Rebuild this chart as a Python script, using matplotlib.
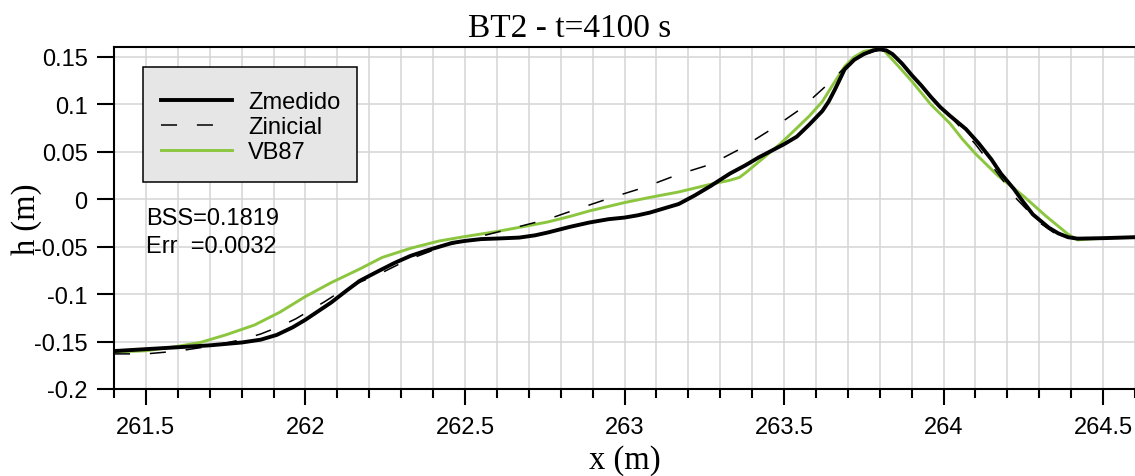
import matplotlib
matplotlib.use("Agg")
import matplotlib.pyplot as plt
from matplotlib.patches import Rectangle
from matplotlib.ticker import FixedLocator, MultipleLocator

# Measured profile (Zmedido)
x_med = [261.40, 261.50, 261.60, 261.70, 261.80, 261.86, 261.91, 261.96, 262.00, 262.04,
         262.08, 262.13, 262.17, 262.23, 262.28, 262.33, 262.38, 262.42, 262.46, 262.50,
         262.55, 262.60, 262.67, 262.72, 262.76, 262.83, 262.89, 262.95, 263.00, 263.04,
         263.08, 263.12, 263.17, 263.22, 263.27, 263.33, 263.38, 263.42, 263.46, 263.50,
         263.54, 263.58, 263.62, 263.64, 263.66, 263.69, 263.72, 263.75, 263.78, 263.80,
         263.82, 263.84, 263.87, 263.90, 263.93, 263.96, 263.99, 264.02, 264.07, 264.11,
         264.15, 264.18, 264.22, 264.25, 264.28, 264.33, 264.36, 264.39, 264.42, 264.50,
         264.60]
z_med = [-0.160, -0.158, -0.156, -0.154, -0.151, -0.148, -0.143, -0.135, -0.127, -0.118,
         -0.109, -0.096, -0.086, -0.0755, -0.067, -0.0596, -0.054, -0.050, -0.046, -0.0439,
         -0.042, -0.0414, -0.0404, -0.038, -0.035, -0.029, -0.0245, -0.021, -0.0193, -0.017,
         -0.014, -0.010, -0.005, 0.004, 0.014, 0.027, 0.036, 0.044, 0.051, 0.058,
         0.066, 0.079, 0.093, 0.103, 0.116, 0.137, 0.147, 0.153, 0.157, 0.158,
         0.157, 0.153, 0.143, 0.131, 0.120, 0.108, 0.097, 0.088, 0.074, 0.059,
         0.042, 0.027, 0.011, -0.003, -0.016, -0.030, -0.036, -0.040, -0.0415, -0.041,
         -0.040]

# Initial profile (Zinicial)
x_ini = [261.40, 261.50, 261.60, 261.70, 261.80, 261.86, 261.92, 261.97, 262.01, 262.06,
         262.12, 262.18, 262.23, 262.29, 262.34, 262.43, 262.55, 262.65, 262.76, 262.85,
         262.96, 263.06, 263.17, 263.27, 263.36, 263.46, 263.55, 263.63, 263.70, 263.75,
         263.80, 263.84, 263.90, 263.96, 264.02, 264.10, 264.16, 264.23, 264.30, 264.36,
         264.40, 264.50, 264.60]
z_ini = [-0.163, -0.163, -0.160, -0.155, -0.148, -0.142, -0.134, -0.126, -0.118, -0.108,
         -0.095, -0.086, -0.079, -0.069, -0.0614, -0.050, -0.039, -0.0305, -0.021, -0.0105,
         0.0018, 0.0123, 0.0263, 0.0368, 0.0526, 0.0737, 0.0947, 0.119, 0.142, 0.152,
         0.158, 0.153, 0.131, 0.108, 0.088, 0.058, 0.0316, 0.000, -0.0245, -0.0386,
         -0.042, -0.041, -0.040]

# Modelled profile (VB87)
x_vb = [261.40, 261.50, 261.60, 261.67, 261.75, 261.84, 261.92, 262.00, 262.08, 262.17,
        262.24, 262.33, 262.42, 262.50, 262.60, 262.68, 262.76, 262.83, 262.89, 263.00,
        263.08, 263.17, 263.27, 263.33, 263.36, 263.38, 263.43, 263.49, 263.54, 263.58,
        263.62, 263.65, 263.69, 263.72, 263.75, 263.79, 263.81, 263.84, 263.87, 263.90,
        263.96, 264.02, 264.06, 264.10, 264.17, 264.25, 264.32, 264.39, 264.42, 264.50,
        264.60]
z_vb = [-0.161, -0.1597, -0.155, -0.151, -0.143, -0.1326, -0.119, -0.1025, -0.088, -0.0735,
        -0.0614, -0.0516, -0.0439, -0.0393, -0.034, -0.029, -0.0239, -0.018, -0.0123, -0.0035,
        0.002, 0.0077, 0.0158, 0.020, 0.023, 0.028, 0.042, 0.059, 0.075, 0.088,
        0.103, 0.119, 0.140, 0.150, 0.156, 0.158, 0.158, 0.147, 0.136, 0.1246,
        0.100, 0.080, 0.063, 0.048, 0.025, 0.0035, -0.0175, -0.0368, -0.0428, -0.041,
        -0.040]

series_labels = ["Zmedido", "Zinicial", "VB87"]
x_ticks = [261.5, 262.0, 262.5, 263.0, 263.5, 264.0, 264.5]
x_tick_labels = ["261.5", "262", "262.5", "263", "263.5", "264", "264.5"]
y_ticks = [-0.2, -0.15, -0.1, -0.05, 0.0, 0.05, 0.1, 0.15]
y_tick_labels = ["-0.2", "-0.15", "-0.1", "-0.05", "0", "0.05", "0.1", "0.15"]
title_text = "BT2 - t=4100 s"
stats_lines = ["BSS=0.1819", "Err  =0.0032"]

plt.rcParams["axes.unicode_minus"] = False
SANS = "Liberation Sans"
SERIF = "Liberation Serif"

W, H = 1135, 477
AX_L, AX_T, AX_B = 114, 48, 390
AX_W, AX_H = W - AX_L, AX_B - AX_T
fig = plt.figure(figsize=(W / 100, H / 100), dpi=100)
ax = fig.add_axes([AX_L / W, 1 - AX_B / H, AX_W / W, AX_H / H])


def px_to_axes(px, py):
    """Convert figure pixel position (from top-left) to axes fraction."""
    return (px - AX_L) / AX_W, (AX_B - py) / AX_H


green = "#8cc63f"
ax.plot(x_vb, z_vb, color=green, lw=2.1, zorder=3, label=series_labels[2])
ax.plot(x_med, z_med, color="black", lw=2.8, zorder=4, label=series_labels[0])
ax.plot(x_ini, z_ini, color="black", lw=1.1, dashes=(10.5, 13), zorder=5,
        label=series_labels[1])

ax.set_xlim(261.4, 264.6)
ax.set_ylim(-0.2, 0.1605)

ax.xaxis.set_major_locator(FixedLocator(x_ticks))
ax.set_xticklabels(x_tick_labels)
ax.xaxis.set_minor_locator(MultipleLocator(0.1))
ax.yaxis.set_major_locator(FixedLocator(y_ticks))
ax.set_yticklabels(y_tick_labels)

ax.grid(True, which="both", axis="x", color="#d4d4d4", lw=1.1, zorder=0)
ax.grid(True, which="major", axis="y", color="#d4d4d4", lw=1.1, zorder=0)
ax.set_axisbelow(True)

for side in ("left", "bottom", "top"):
    ax.spines[side].set_linewidth(1.5)
    ax.spines[side].set_color("black")
ax.spines["right"].set_visible(False)

ax.tick_params(axis="both", which="major", direction="out", width=1.5,
               labelsize=17, color="black")
ax.tick_params(axis="x", which="major", length=11.5, pad=8)
ax.tick_params(axis="x", which="minor", length=6.7, width=1.5)
ax.tick_params(axis="y", which="major", length=12, pad=7)
ax.tick_params(axis="y", which="minor", length=0)
for lab in ax.get_xticklabels() + ax.get_yticklabels():
    lab.set_fontfamily(SANS)

ax.set_xlabel("x (m)", fontsize=23.5, fontfamily=SERIF)
ax.xaxis.set_label_coords(0.5, -0.162)
ax.set_ylabel("h (m)", fontsize=23.5, fontfamily=SERIF)
ax.yaxis.set_label_coords(-0.071, 0.5)

fig.text(570 / W, 1 - 37 / H, title_text, ha="center", va="baseline",
         fontsize=24, fontfamily=SERIF)

# Legend box drawn as a plain rectangle, entries placed on top of it
bx0, by0 = px_to_axes(143, 183)
bx1, by1 = px_to_axes(357, 67.7)
ax.add_patch(Rectangle((bx0, by0), bx1 - bx0, by1 - by0, transform=ax.transAxes,
                       facecolor="#e6e6e6", edgecolor="black", lw=1.1, zorder=9))

handles, labels = ax.get_legend_handles_labels()
order = [1, 2, 0]
leg = ax.legend([handles[i] for i in order], [labels[i] for i in order],
                loc="upper left", bbox_to_anchor=px_to_axes(143, 74.5),
                borderaxespad=0, frameon=False, handlelength=3.0,
                handletextpad=0.7, borderpad=0.75, labelspacing=0.12,
                prop={"family": SANS, "size": 17})
leg.set_zorder(10)

ax.text(*px_to_axes(146, 225), stats_lines[0], transform=ax.transAxes,
        ha="left", va="baseline", fontsize=17, fontfamily=SANS)
ax.text(*px_to_axes(146, 252.7), stats_lines[1], transform=ax.transAxes,
        ha="left", va="baseline", fontsize=17, fontfamily=SANS)

fig.savefig("out.png", dpi=100)
